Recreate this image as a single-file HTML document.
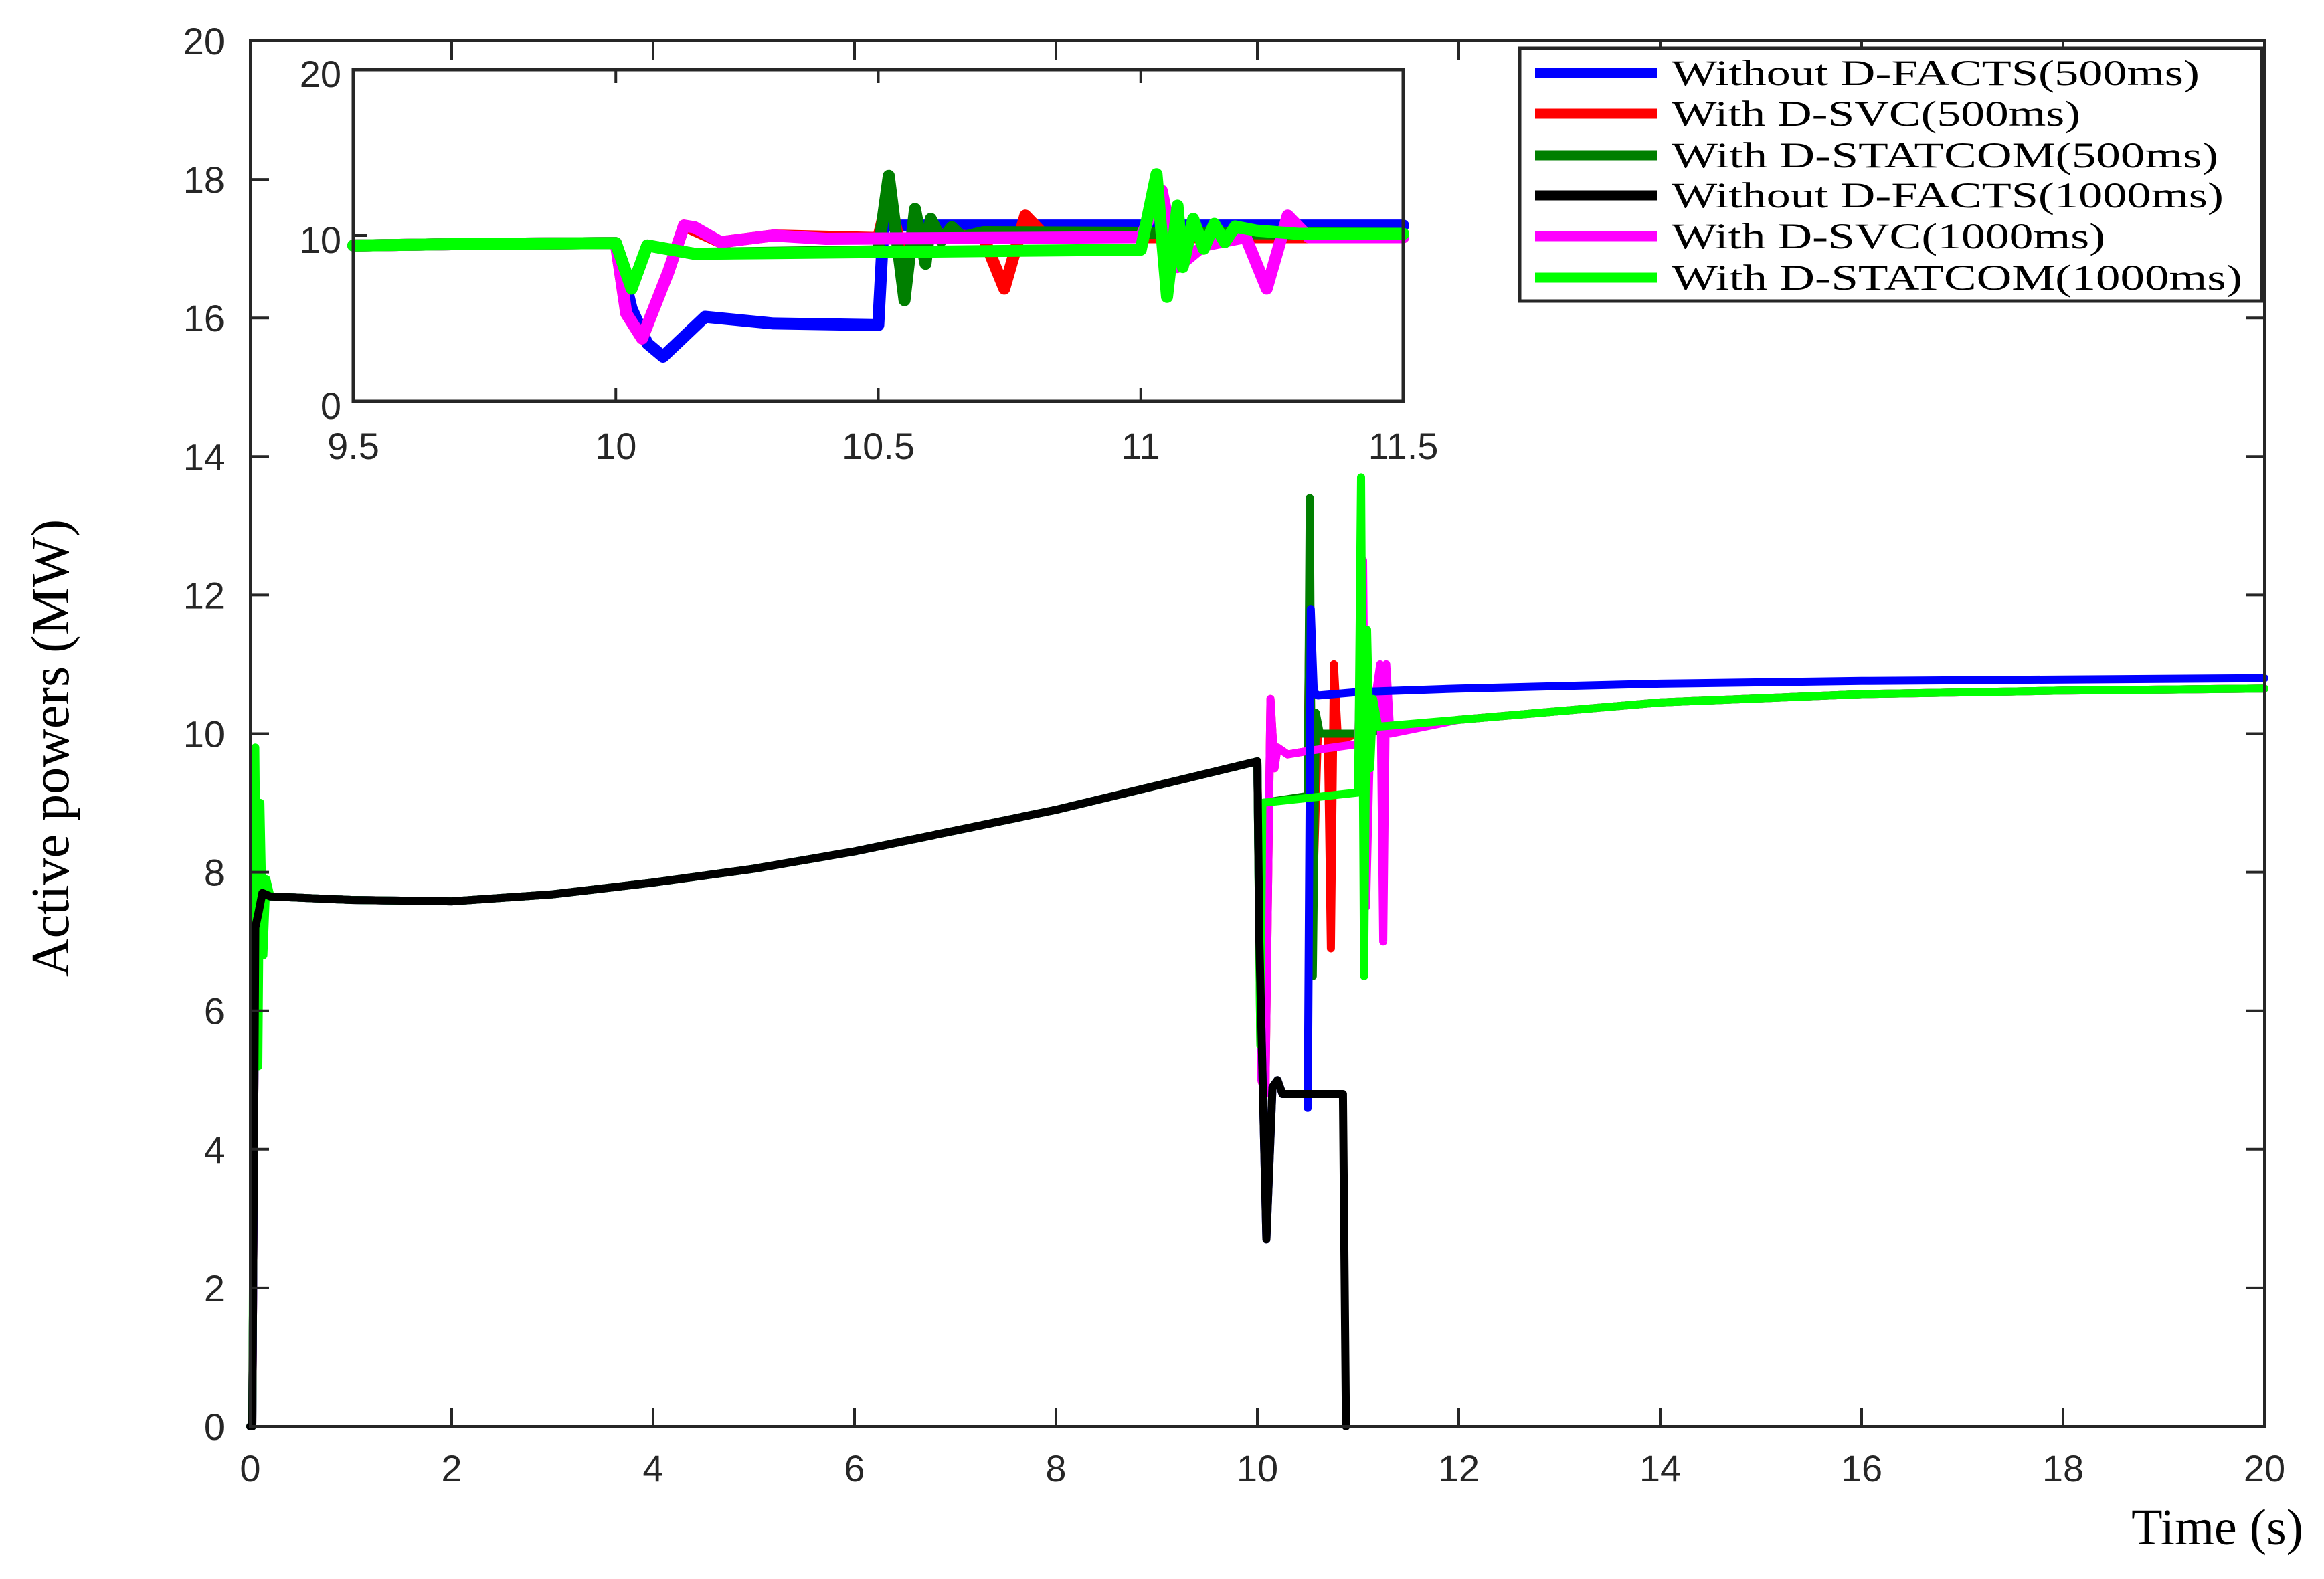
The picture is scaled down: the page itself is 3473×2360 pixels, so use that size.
<!DOCTYPE html>
<html><head><meta charset="utf-8"><style>
html,body{margin:0;padding:0;background:#fff;}
svg{display:block;}
</style></head><body>
<svg id="chart" width="3473" height="2360" viewBox="0 0 3473 2360" xmlns="http://www.w3.org/2000/svg">
<rect width="3473" height="2360" fill="#fff"/>
<g id="main"></g>
<g id="inset"></g>
<g id="legend"></g>
</svg>
<script>
// ---- main chart data ----
const xTicksMain = [0,2,4,6,8,10,12,14,16,18,20];
const yTicksMain = [0,2,4,6,8,10,12,14,16,18,20];
const seriesNames = ["Without D-FACTS(500ms)","With D-SVC(500ms)","With D-STATCOM(500ms)","Without D-FACTS(1000ms)","With D-SVC(1000ms)","With D-STATCOM(1000ms)"];
const seriesColors = ["#0000ff","#ff0000","#007f00","#000000","#ff00ff","#00ff00"];
const baseT = [0,0.02,0.05,0.08,0.12,0.2,1,2,3,4,5,6,7,8,9,10];
const baseV = [0,0,7.2,7.4,7.7,7.65,7.6,7.58,7.68,7.85,8.05,8.3,8.6,8.9,9.25,9.6];
const tailT = [12,14,16,18,20];
const tailV = [10.2,10.45,10.57,10.62,10.65];
const blueT = [10.02,10.09,10.15,10.2,10.25,10.5,10.5,10.53,10.56,10.6,11,12,14,16,18,20];
const blueV = [7,2.7,4.9,5.0,4.8,4.8,4.6,11.8,10.6,10.55,10.6,10.65,10.72,10.76,10.78,10.8];
const redT = [10.04,10.08,10.13,10.17,10.2,10.3,10.5,10.52,10.55,10.6,10.7,10.73,10.76,10.8,11];
const redV = [5,4.8,10.5,9.5,9.8,9.7,9.75,12.4,7.5,10,10,6.9,11,9.9,10];
const dgreenT = [10.03,10.05,10.5,10.52,10.55,10.58,10.62,11];
const dgreenV = [5.5,9.0,9.1,13.4,6.5,10.3,10,10];
const blackT = [0,0.02,0.05,0.08,0.12,0.2,1,2,3,4,5,6,7,8,9,10,10.02,10.09,10.15,10.2,10.25,10.85,10.88];
const blackV = [0,0,7.2,7.4,7.7,7.65,7.6,7.58,7.68,7.85,8.05,8.3,8.6,8.9,9.25,9.6,7,2.7,4.9,5.0,4.8,4.8,0];
const magT = [10.04,10.08,10.13,10.17,10.2,10.3,10.5,11,11.05,11.08,11.12,11.22,11.25,11.28,11.32];
const magV = [5,4.8,10.5,9.5,9.8,9.7,9.75,9.85,12.5,7.5,10,11,7,11,10];
const lgreenStartT = [0.03,0.05,0.08,0.1,0.13,0.16];
const lgreenStartV = [3,9.8,5.2,9,6.8,7.9];
const lgreenT = [10.03,10.05,11,11.03,11.06,11.09,11.12,11.15,11.2];
const lgreenV = [5.5,9.0,9.15,13.7,6.5,11.5,9.5,10.5,10.1];

// ---- inset data ----
const xTicksInset = [9.5,10,10.5,11,11.5];
const yTicksInset = [0,10,20];
const inBaseT = [9.5,9.75,10.0];
const inBaseV = [9.4,9.5,9.55];
const inBlueT = [10.03,10.06,10.09,10.12,10.17,10.3,10.5,10.51,10.6,11.5];
const inBlueV = [5.6,3.5,2.7,3.6,5.1,4.7,4.6,10.6,10.6,10.6];
const inRedT = [10.02,10.05,10.1,10.13,10.2,10.3,10.5,10.52,10.55,10.57,10.6,10.7,10.74,10.78,10.82,11.5];
const inRedV = [5.3,3.8,7.8,10.6,9.6,10,9.85,12.5,8.1,10,10.1,9.9,6.8,11.2,9.9,9.9];
const inDgT = [10.03,10.06,10.15,10.5,10.52,10.55,10.57,10.59,10.6,10.62,10.64,10.66,10.7,11.5];
const inDgV = [6.8,9.4,8.9,9.05,13.6,6.1,11.6,8.3,11.0,9.7,10.5,9.9,10.2,10.1];
const inMagT = [10.02,10.05,10.1,10.13,10.15,10.2,10.3,10.4,11.0,11.04,11.07,11.12,11.2,11.24,11.28,11.32,11.5];
const inMagV = [5.3,3.8,7.8,10.6,10.5,9.6,10,9.8,9.9,12.7,8.1,9.4,9.9,6.8,11.2,9.9,9.9];
const inGrT = [10.03,10.06,10.15,11.0,11.03,11.05,11.07,11.08,11.1,11.12,11.14,11.16,11.18,11.22,11.3,11.5];
const inGrV = [6.8,9.4,8.9,9.15,13.7,6.3,11.8,8.1,11.0,9.2,10.7,9.6,10.55,10.3,10.1,10.1];

const NS="http://www.w3.org/2000/svg";
function mk(tag,attrs,parent){const e=document.createElementNS(NS,tag);for(const k in attrs)e.setAttribute(k,attrs[k]);parent.appendChild(e);return e;}

const M={l:374,r:3384,t:61,b:2132};
const mx=t=>M.l+(t-0)/20*(M.r-M.l);
const my=v=>M.b-(v-0)/20*(M.b-M.t);
const gm=document.getElementById('main');
function pathD(T,V,fx,fy){return T.map((t,i)=>(i?'L':'M')+fx(t).toFixed(1)+' '+fy(V[i]).toFixed(1)).join(' ');}
function drawLine(g,T,V,fx,fy,color,w,name){
  const p=mk('path',{d:pathD(T,V,fx,fy),fill:'none',stroke:color,'stroke-width':w,'stroke-linejoin':'round','stroke-linecap':'round'},g);
  
  
}
const W=12;
drawLine(gm,baseT.concat(redT,tailT),baseV.concat(redV,tailV),mx,my,seriesColors[1],W,'line-dsvc-500');
drawLine(gm,baseT.concat(dgreenT,tailT),baseV.concat(dgreenV,tailV),mx,my,seriesColors[2],W,'line-dstatcom-500');
drawLine(gm,baseT.concat(magT,tailT),baseV.concat(magV,tailV),mx,my,seriesColors[4],W,'line-dsvc-1000');
drawLine(gm,baseT.concat(blueT),baseV.concat(blueV),mx,my,seriesColors[0],W,'line-without-dfacts-500');
drawLine(gm,[0,0.02].concat(lgreenStartT,baseT.slice(5),lgreenT,tailT),[0,0].concat(lgreenStartV,baseV.slice(5),lgreenV,tailV),mx,my,seriesColors[5],W,'line-dstatcom-1000');
drawLine(gm,blackT,blackV,mx,my,seriesColors[3],W,'line-without-dfacts-1000');

const fr=mk('rect',{x:M.l,y:M.t,width:M.r-M.l,height:M.b-M.t,fill:'none',stroke:'#262626','stroke-width':4},gm);


xTicksMain.forEach(t=>{
  mk('line',{x1:mx(t),x2:mx(t),y1:M.b,y2:M.b-28,stroke:'#262626','stroke-width':4},gm);
  mk('line',{x1:mx(t),x2:mx(t),y1:M.t,y2:M.t+28,stroke:'#262626','stroke-width':4},gm);
  const tx=mk('text',{x:mx(t),y:M.b+82,'text-anchor':'middle','font-family':'Liberation Sans, sans-serif','font-size':56,fill:'#262626'},gm);
  tx.textContent=t;
  
  
});
yTicksMain.forEach(v=>{
  mk('line',{x1:M.l,x2:M.l+28,y1:my(v),y2:my(v),stroke:'#262626','stroke-width':4},gm);
  mk('line',{x1:M.r,x2:M.r-28,y1:my(v),y2:my(v),stroke:'#262626','stroke-width':4},gm);
  const tx=mk('text',{x:M.l-38,y:my(v)+20,'text-anchor':'end','font-family':'Liberation Sans, sans-serif','font-size':56,fill:'#262626'},gm);
  tx.textContent=v;
  
  
});
const xl=mk('text',{x:3442,y:2308,'text-anchor':'end','font-family':'Liberation Serif, serif','font-size':76,fill:'#000'},gm);
xl.textContent='Time (s)';


const yl=mk('text',{x:0,y:0,'text-anchor':'middle','font-family':'Liberation Serif, serif','font-size':80,fill:'#000',transform:'translate(102,1118) rotate(-90)'},gm);
yl.textContent='Active powers (MW)';



const I={l:528,r:2097,t:104,b:600};
const ix=t=>I.l+(t-9.5)/2*(I.r-I.l);
const iy=v=>I.b-v/20*(I.b-I.t);
const gi=document.getElementById('inset');
const ibg=mk('rect',{x:I.l,y:I.t,width:I.r-I.l,height:I.b-I.t,fill:'#fff'},gi);


const IW=18;
drawLine(gi,inBaseT.concat(inBlueT),inBaseV.concat(inBlueV),ix,iy,seriesColors[0],IW,'inset-line-without-dfacts-500');
drawLine(gi,inBaseT.concat(inRedT),inBaseV.concat(inRedV),ix,iy,seriesColors[1],IW,'inset-line-dsvc-500');
drawLine(gi,inBaseT.concat(inDgT),inBaseV.concat(inDgV),ix,iy,seriesColors[2],IW,'inset-line-dstatcom-500');
drawLine(gi,inBaseT.concat(inMagT),inBaseV.concat(inMagV),ix,iy,seriesColors[4],IW,'inset-line-dsvc-1000');
drawLine(gi,inBaseT.concat(inGrT),inBaseV.concat(inGrV),ix,iy,seriesColors[5],IW,'inset-line-dstatcom-1000');
const ifr=mk('rect',{x:I.l,y:I.t,width:I.r-I.l,height:I.b-I.t,fill:'none',stroke:'#262626','stroke-width':5},gi);


xTicksInset.forEach(t=>{
  mk('line',{x1:ix(t),x2:ix(t),y1:I.b,y2:I.b-20,stroke:'#262626','stroke-width':4},gi);
  mk('line',{x1:ix(t),x2:ix(t),y1:I.t,y2:I.t+20,stroke:'#262626','stroke-width':4},gi);
  const tx=mk('text',{x:ix(t),y:I.b+86,'text-anchor':'middle','font-family':'Liberation Sans, sans-serif','font-size':56,fill:'#262626'},gi);
  tx.textContent=t;
  
  
});
yTicksInset.forEach(v=>{
  mk('line',{x1:I.l,x2:I.l+20,y1:iy(v),y2:iy(v),stroke:'#262626','stroke-width':4},gi);
  const tx=mk('text',{x:I.l-18,y:iy(v)+26,'text-anchor':'end','font-family':'Liberation Sans, sans-serif','font-size':56,fill:'#262626'},gi);
  tx.textContent=v;
  
  
});

const gl=document.getElementById('legend');
const lb=mk('rect',{x:2271,y:72,width:1109,height:378,fill:'#fff',stroke:'#262626','stroke-width':5},gl);


const rowY=[109,170,232,292,353,415];
const textW=[789,611,817,825,648,853];
seriesNames.forEach((n,i)=>{
  const ln=mk('line',{x1:2294,x2:2476,y1:rowY[i],y2:rowY[i],stroke:seriesColors[i],'stroke-width':15},gl);
  
  
  const tx=mk('text',{x:2498,y:rowY[i]+18,'font-family':'Liberation Serif, serif','font-size':54,fill:'#000',textLength:textW[i],lengthAdjust:'spacingAndGlyphs'},gl);
  tx.textContent=n;
  
  
});
</script>
</body></html>
